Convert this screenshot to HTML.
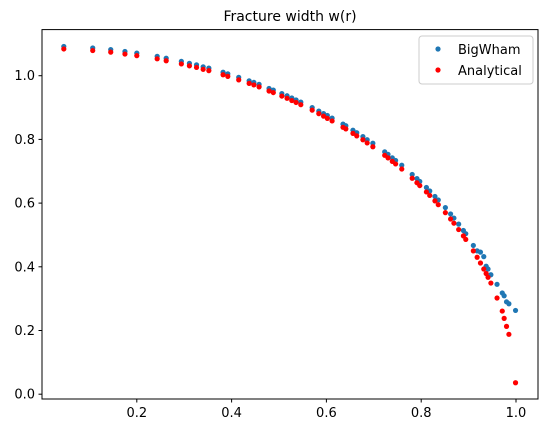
<!DOCTYPE html>
<html><head><meta charset="utf-8"><style>
body{margin:0;background:#fff}
svg{display:block;font-family:"DejaVu Sans","Liberation Sans",sans-serif}
</style></head><body>
<svg id="chart" width="547" height="433">
<rect x="0" y="0" width="547" height="433" fill="#fff"/>
<text x="290" y="21" text-anchor="middle" font-size="14">Fracture width w(r)</text>
<g id="grid"></g>
<g id="marks"></g>
<rect x="42" y="29.6" width="496" height="369.4" fill="none" stroke="#000" stroke-width="1"/>
<g>
<rect x="419" y="36" width="114" height="48" rx="3" fill="#fff" stroke="#ccc"/>
<circle cx="438" cy="49" r="2.6" fill="#1f77b4"/>
<text x="458" y="54" font-size="13">BigWham</text>
<circle cx="438" cy="70" r="2.6" fill="#ff0000"/>
<text x="458" y="75" font-size="13">Analytical</text>
</g>
</svg>
<script>
const rValues=[0.046,0.107,0.145,0.175,0.2,0.243,0.262,0.294,0.311,0.326,0.340,0.352,0.382,0.392,0.415,0.437,0.447,0.458,0.479,0.488,0.506,0.517,0.527,0.536,0.546,0.570,0.584,0.594,0.602,0.612,0.635,0.641,0.656,0.664,0.677,0.686,0.698,0.723,0.730,0.739,0.746,0.759,0.781,0.791,0.797,0.811,0.818,0.829,0.836,0.851,0.862,0.869,0.879,0.889,0.894,0.910,0.918,0.925,0.932,0.937,0.941,0.947,0.960,0.971,0.975,0.980,0.985,0.999];
const analyticalW=[1.084,1.079,1.074,1.068,1.063,1.053,1.047,1.037,1.031,1.026,1.020,1.016,1.003,0.998,0.987,0.976,0.971,0.965,0.952,0.947,0.936,0.929,0.922,0.916,0.909,0.892,0.881,0.873,0.866,0.858,0.838,0.833,0.819,0.811,0.799,0.789,0.777,0.750,0.742,0.731,0.723,0.707,0.678,0.664,0.655,0.635,0.624,0.607,0.595,0.570,0.550,0.537,0.517,0.497,0.486,0.450,0.430,0.412,0.393,0.379,0.367,0.349,0.302,0.261,0.238,0.213,0.188,0.036];
const bigwhamW=[1.092,1.087,1.082,1.076,1.071,1.061,1.055,1.045,1.039,1.034,1.028,1.024,1.011,1.006,0.995,0.984,0.979,0.973,0.960,0.955,0.944,0.937,0.930,0.924,0.917,0.900,0.889,0.881,0.875,0.867,0.848,0.843,0.829,0.821,0.809,0.799,0.788,0.761,0.753,0.742,0.734,0.719,0.690,0.677,0.668,0.649,0.638,0.621,0.610,0.586,0.566,0.553,0.534,0.514,0.504,0.467,0.450,0.446,0.432,0.402,0.393,0.375,0.345,0.318,0.309,0.290,0.284,0.263];
const xTicks=[0.2,0.4,0.6,0.8,1.0];
const yTicks=[0.0,0.2,0.4,0.6,0.8,1.0];
const xLabels=["0.2","0.4","0.6","0.8","1.0"];
const yLabels=["0.0","0.2","0.4","0.6","0.8","1.0"];
const NS="http://www.w3.org/2000/svg";
const L=42,R=538,T=29.6,B=399;
const xMin=0.0,xMax=1.0464,yMin=-0.0151,yMax=1.1448;
function xs(v){return L+(v-xMin)/(xMax-xMin)*(R-L);}
function ys(v){return B-(v-yMin)/(yMax-yMin)*(B-T);}
const grid=document.getElementById('grid'),marks=document.getElementById('marks');
function mk(tag,attrs,parent){const e=document.createElementNS(NS,tag);for(const k in attrs)e.setAttribute(k,attrs[k]);parent.appendChild(e);return e;}
xTicks.forEach((t,i)=>{
 const x=xs(t);
 const l=mk('line',{x1:x,x2:x,y1:B,y2:B+3.5,stroke:'#000'},grid);
 
 
 const tx=mk('text',{x:x,y:B+18,'text-anchor':'middle','font-size':'13'},grid);
 tx.textContent=xLabels[i];
 
 
});
yTicks.forEach((t,i)=>{
 const y=ys(t);
 const l=mk('line',{x1:L-3.5,x2:L,y1:y,y2:y,stroke:'#000'},grid);
 
 
 const tx=mk('text',{x:L-7,y:y+4.5,'text-anchor':'end','font-size':'13'},grid);
 tx.textContent=yLabels[i];
 
 
});
rValues.forEach((r,i)=>{
 const c=mk('circle',{cx:xs(r),cy:ys(bigwhamW[i]),r:2.6,fill:'#1f77b4'},marks);
 
 
});
rValues.forEach((r,i)=>{
 const c=mk('circle',{cx:xs(r),cy:ys(analyticalW[i]),r:2.6,fill:'#ff0000'},marks);
 
 
});
</script>
</body></html>
